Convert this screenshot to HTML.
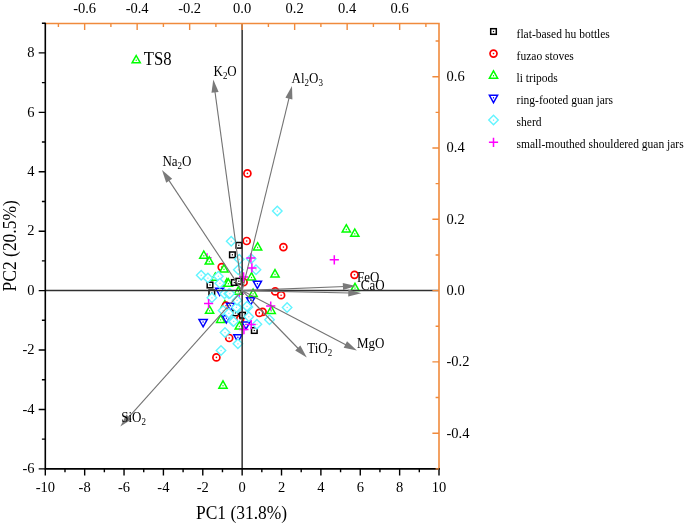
<!DOCTYPE html><html><head><meta charset="utf-8"><style>
html,body{margin:0;padding:0;background:#fff;}
svg{display:block;font-family:"Liberation Serif",serif;will-change:transform;}
.ms{fill:#fff;stroke:#000;stroke-width:1.5}
.mc{fill:#fff;stroke:#f00;stroke-width:1.7}
.mt{fill:#fff;stroke:#0f0;stroke-width:1.5;stroke-linejoin:miter}
.mv{fill:#fff;stroke:#00f;stroke-width:1.5;stroke-linejoin:miter}
.md{fill:#fff;stroke:#62F4FF;stroke-width:1.4}
.mp{fill:none;stroke:#f0f;stroke-width:1.5}
.tk{font-size:14.5px;fill:#000}
.ar{stroke:#737373;stroke-width:1.1;fill:none}
.ah{fill:#7a7a7a;stroke:none}
.lb{font-size:13px;fill:#000}
.lg{font-size:11.5px;fill:#000}
</style></head><body>
<svg width="685" height="525" viewBox="0 0 685 525">
<path d="M202.40 257.80H211.60M207.00 253.20V262.40" class="mp"/>
<path d="M234.70 294.00H243.90M239.30 289.40V298.60" class="mp"/>
<path d="M224.90 300.50L229.00 307.80L220.80 307.80Z" class="mt"/><rect x="224.35" y="304.60" width="1.1" height="1.4" fill="#0f0"/>
<rect x="236.00" y="242.50" width="5.60" height="5.60" class="ms"/><rect x="238.20" y="244.70" width="1.2" height="1.2" fill="#000"/>
<rect x="229.60" y="252.00" width="5.60" height="5.60" class="ms"/><rect x="231.80" y="254.20" width="1.2" height="1.2" fill="#000"/>
<rect x="207.20" y="282.20" width="5.60" height="5.60" class="ms"/><rect x="209.40" y="284.40" width="1.2" height="1.2" fill="#000"/>
<rect x="209.00" y="290.10" width="5.60" height="5.60" class="ms"/><rect x="211.20" y="292.30" width="1.2" height="1.2" fill="#000"/>
<rect x="232.70" y="310.10" width="5.60" height="5.60" class="ms"/><rect x="234.90" y="312.30" width="1.2" height="1.2" fill="#000"/>
<circle cx="247.40" cy="173.40" r="3.5" class="mc"/><circle cx="247.40" cy="173.40" r="0.8" fill="#f00"/>
<circle cx="246.70" cy="241.00" r="3.5" class="mc"/><circle cx="246.70" cy="241.00" r="0.8" fill="#f00"/>
<circle cx="283.40" cy="247.10" r="3.5" class="mc"/><circle cx="283.40" cy="247.10" r="0.8" fill="#f00"/>
<circle cx="221.70" cy="267.10" r="3.5" class="mc"/><circle cx="221.70" cy="267.10" r="0.8" fill="#f00"/>
<circle cx="354.50" cy="274.80" r="3.5" class="mc"/><circle cx="354.50" cy="274.80" r="0.8" fill="#f00"/>
<circle cx="275.20" cy="291.40" r="3.5" class="mc"/><circle cx="275.20" cy="291.40" r="0.8" fill="#f00"/>
<circle cx="281.10" cy="295.20" r="3.5" class="mc"/><circle cx="281.10" cy="295.20" r="0.8" fill="#f00"/>
<circle cx="262.60" cy="311.90" r="3.5" class="mc"/><circle cx="262.60" cy="311.90" r="0.8" fill="#f00"/>
<circle cx="259.30" cy="312.90" r="3.5" class="mc"/><circle cx="259.30" cy="312.90" r="0.8" fill="#f00"/>
<circle cx="229.20" cy="338.00" r="3.5" class="mc"/><circle cx="229.20" cy="338.00" r="0.8" fill="#f00"/>
<circle cx="216.40" cy="357.40" r="3.5" class="mc"/><circle cx="216.40" cy="357.40" r="0.8" fill="#f00"/>
<circle cx="243.60" cy="282.20" r="3.5" class="mc"/><circle cx="243.60" cy="282.20" r="0.8" fill="#f00"/>
<circle cx="226.00" cy="305.70" r="3.5" class="mc"/><circle cx="226.00" cy="305.70" r="0.8" fill="#f00"/>
<circle cx="240.20" cy="319.00" r="3.5" class="mc"/><circle cx="240.20" cy="319.00" r="0.8" fill="#f00"/>
<rect x="239.70" y="312.40" width="5.60" height="5.60" class="ms"/><rect x="241.90" y="314.60" width="1.2" height="1.2" fill="#000"/>
<rect x="251.50" y="327.70" width="5.60" height="5.60" class="ms"/><rect x="253.70" y="329.90" width="1.2" height="1.2" fill="#000"/>
<path d="M136.20 55.50L140.30 62.80L132.10 62.80Z" class="mt"/><rect x="135.65" y="59.60" width="1.1" height="1.4" fill="#0f0"/>
<path d="M257.60 242.70L261.70 250.00L253.50 250.00Z" class="mt"/><rect x="257.05" y="246.80" width="1.1" height="1.4" fill="#0f0"/>
<path d="M203.80 251.00L207.90 258.30L199.70 258.30Z" class="mt"/><rect x="203.25" y="255.10" width="1.1" height="1.4" fill="#0f0"/>
<path d="M209.30 256.80L213.40 264.10L205.20 264.10Z" class="mt"/><rect x="208.75" y="260.90" width="1.1" height="1.4" fill="#0f0"/>
<path d="M224.00 264.60L228.10 271.90L219.90 271.90Z" class="mt"/><rect x="223.45" y="268.70" width="1.1" height="1.4" fill="#0f0"/>
<path d="M215.30 273.00L219.40 280.30L211.20 280.30Z" class="mt"/><rect x="214.75" y="277.10" width="1.1" height="1.4" fill="#0f0"/>
<path d="M226.90 278.60L231.00 285.90L222.80 285.90Z" class="mt"/><rect x="226.35" y="282.70" width="1.1" height="1.4" fill="#0f0"/>
<path d="M228.40 278.90L232.50 286.20L224.30 286.20Z" class="mt"/><rect x="227.85" y="283.00" width="1.1" height="1.4" fill="#0f0"/>
<rect x="231.50" y="279.70" width="5.60" height="5.60" class="ms"/><rect x="233.70" y="281.90" width="1.2" height="1.2" fill="#000"/>
<rect x="236.00" y="278.40" width="5.60" height="5.60" class="ms"/><rect x="238.20" y="280.60" width="1.2" height="1.2" fill="#000"/>
<path d="M251.50 272.70L255.60 280.00L247.40 280.00Z" class="mt"/><rect x="250.95" y="276.80" width="1.1" height="1.4" fill="#0f0"/>
<path d="M275.00 269.60L279.10 276.90L270.90 276.90Z" class="mt"/><rect x="274.45" y="273.70" width="1.1" height="1.4" fill="#0f0"/>
<path d="M346.30 224.70L350.40 232.00L342.20 232.00Z" class="mt"/><rect x="345.75" y="228.80" width="1.1" height="1.4" fill="#0f0"/>
<path d="M354.80 229.00L358.90 236.30L350.70 236.30Z" class="mt"/><rect x="354.25" y="233.10" width="1.1" height="1.4" fill="#0f0"/>
<path d="M355.00 283.30L359.10 290.60L350.90 290.60Z" class="mt"/><rect x="354.45" y="287.40" width="1.1" height="1.4" fill="#0f0"/>
<path d="M238.30 286.90L242.40 294.20L234.20 294.20Z" class="mt"/><rect x="237.75" y="291.00" width="1.1" height="1.4" fill="#0f0"/>
<path d="M253.10 289.10L257.20 296.40L249.00 296.40Z" class="mt"/><rect x="252.55" y="293.20" width="1.1" height="1.4" fill="#0f0"/>
<path d="M209.60 306.00L213.70 313.30L205.50 313.30Z" class="mt"/><rect x="209.05" y="310.10" width="1.1" height="1.4" fill="#0f0"/>
<path d="M271.20 306.10L275.30 313.40L267.10 313.40Z" class="mt"/><rect x="270.65" y="310.20" width="1.1" height="1.4" fill="#0f0"/>
<path d="M220.70 315.10L224.80 322.40L216.60 322.40Z" class="mt"/><rect x="220.15" y="319.20" width="1.1" height="1.4" fill="#0f0"/>
<path d="M223.00 380.90L227.10 388.20L218.90 388.20Z" class="mt"/><rect x="222.45" y="385.00" width="1.1" height="1.4" fill="#0f0"/>
<path d="M219.70 295.50L223.80 288.20L215.60 288.20Z" class="mv"/><rect x="219.15" y="290.00" width="1.1" height="1.4" fill="#00f"/>
<path d="M257.40 288.50L261.50 281.20L253.30 281.20Z" class="mv"/><rect x="256.85" y="283.00" width="1.1" height="1.4" fill="#00f"/>
<path d="M250.70 305.00L254.80 297.70L246.60 297.70Z" class="mv"/><rect x="250.15" y="299.50" width="1.1" height="1.4" fill="#00f"/>
<path d="M230.50 310.50L234.60 303.20L226.40 303.20Z" class="mv"/><rect x="229.95" y="305.00" width="1.1" height="1.4" fill="#00f"/>
<path d="M226.40 323.00L230.50 315.70L222.30 315.70Z" class="mv"/><rect x="225.85" y="317.50" width="1.1" height="1.4" fill="#00f"/>
<path d="M203.10 326.80L207.20 319.50L199.00 319.50Z" class="mv"/><rect x="202.55" y="321.30" width="1.1" height="1.4" fill="#00f"/>
<path d="M237.90 342.10L242.00 334.80L233.80 334.80Z" class="mv"/><rect x="237.35" y="336.60" width="1.1" height="1.4" fill="#00f"/>
<path d="M246.00 329.20L250.10 321.90L241.90 321.90Z" class="mv"/><rect x="245.45" y="323.70" width="1.1" height="1.4" fill="#00f"/>
<path d="M239.30 321.70L243.40 329.00L235.20 329.00Z" class="mt"/><rect x="238.75" y="325.80" width="1.1" height="1.4" fill="#0f0"/>
<path d="M277.30 206.35L282.05 211.10L277.30 215.85L272.55 211.10Z" class="md"/><rect x="276.75" y="210.55" width="1.2" height="1.2" fill="#62F4FF"/>
<path d="M231.20 236.45L235.95 241.20L231.20 245.95L226.45 241.20Z" class="md"/><rect x="230.65" y="240.65" width="1.2" height="1.2" fill="#62F4FF"/>
<path d="M239.30 254.55L244.05 259.30L239.30 264.05L234.55 259.30Z" class="md"/><rect x="238.75" y="258.75" width="1.2" height="1.2" fill="#62F4FF"/>
<path d="M251.20 254.05L255.95 258.80L251.20 263.55L246.45 258.80Z" class="md"/><rect x="250.65" y="258.25" width="1.2" height="1.2" fill="#62F4FF"/>
<path d="M238.30 265.05L243.05 269.80L238.30 274.55L233.55 269.80Z" class="md"/><rect x="237.75" y="269.25" width="1.2" height="1.2" fill="#62F4FF"/>
<path d="M256.00 265.05L260.75 269.80L256.00 274.55L251.25 269.80Z" class="md"/><rect x="255.45" y="269.25" width="1.2" height="1.2" fill="#62F4FF"/>
<path d="M201.20 270.45L205.95 275.20L201.20 279.95L196.45 275.20Z" class="md"/><rect x="200.65" y="274.65" width="1.2" height="1.2" fill="#62F4FF"/>
<path d="M207.90 273.35L212.65 278.10L207.90 282.85L203.15 278.10Z" class="md"/><rect x="207.35" y="277.55" width="1.2" height="1.2" fill="#62F4FF"/>
<path d="M218.30 271.45L223.05 276.20L218.30 280.95L213.55 276.20Z" class="md"/><rect x="217.75" y="275.65" width="1.2" height="1.2" fill="#62F4FF"/>
<path d="M219.80 278.55L224.55 283.30L219.80 288.05L215.05 283.30Z" class="md"/><rect x="219.25" y="282.75" width="1.2" height="1.2" fill="#62F4FF"/>
<path d="M211.90 293.05L216.65 297.80L211.90 302.55L207.15 297.80Z" class="md"/><rect x="211.35" y="297.25" width="1.2" height="1.2" fill="#62F4FF"/>
<path d="M224.50 289.05L229.25 293.80L224.50 298.55L219.75 293.80Z" class="md"/><rect x="223.95" y="293.25" width="1.2" height="1.2" fill="#62F4FF"/>
<path d="M228.80 289.05L233.55 293.80L228.80 298.55L224.05 293.80Z" class="md"/><rect x="228.25" y="293.25" width="1.2" height="1.2" fill="#62F4FF"/>
<path d="M223.10 305.75L227.85 310.50L223.10 315.25L218.35 310.50Z" class="md"/><rect x="222.55" y="309.95" width="1.2" height="1.2" fill="#62F4FF"/>
<path d="M228.80 308.55L233.55 313.30L228.80 318.05L224.05 313.30Z" class="md"/><rect x="228.25" y="312.75" width="1.2" height="1.2" fill="#62F4FF"/>
<path d="M232.60 316.25L237.35 321.00L232.60 325.75L227.85 321.00Z" class="md"/><rect x="232.05" y="320.45" width="1.2" height="1.2" fill="#62F4FF"/>
<path d="M237.90 303.35L242.65 308.10L237.90 312.85L233.15 308.10Z" class="md"/><rect x="237.35" y="307.55" width="1.2" height="1.2" fill="#62F4FF"/>
<path d="M247.90 302.35L252.65 307.10L247.90 311.85L243.15 307.10Z" class="md"/><rect x="247.35" y="306.55" width="1.2" height="1.2" fill="#62F4FF"/>
<path d="M248.80 311.95L253.55 316.70L248.80 321.45L244.05 316.70Z" class="md"/><rect x="248.25" y="316.15" width="1.2" height="1.2" fill="#62F4FF"/>
<path d="M233.60 316.65L238.35 321.40L233.60 326.15L228.85 321.40Z" class="md"/><rect x="233.05" y="320.85" width="1.2" height="1.2" fill="#62F4FF"/>
<path d="M256.90 319.55L261.65 324.30L256.90 329.05L252.15 324.30Z" class="md"/><rect x="256.35" y="323.75" width="1.2" height="1.2" fill="#62F4FF"/>
<path d="M225.00 327.85L229.75 332.60L225.00 337.35L220.25 332.60Z" class="md"/><rect x="224.45" y="332.05" width="1.2" height="1.2" fill="#62F4FF"/>
<path d="M237.90 339.05L242.65 343.80L237.90 348.55L233.15 343.80Z" class="md"/><rect x="237.35" y="343.25" width="1.2" height="1.2" fill="#62F4FF"/>
<path d="M221.00 345.75L225.75 350.50L221.00 355.25L216.25 350.50Z" class="md"/><rect x="220.45" y="349.95" width="1.2" height="1.2" fill="#62F4FF"/>
<path d="M287.10 302.65L291.85 307.40L287.10 312.15L282.35 307.40Z" class="md"/><rect x="286.55" y="306.85" width="1.2" height="1.2" fill="#62F4FF"/>
<path d="M269.50 315.05L274.25 319.80L269.50 324.55L264.75 319.80Z" class="md"/><rect x="268.95" y="319.25" width="1.2" height="1.2" fill="#62F4FF"/>
<path d="M229.80 288.85L234.55 293.60L229.80 298.35L225.05 293.60Z" class="md"/><rect x="229.25" y="293.05" width="1.2" height="1.2" fill="#62F4FF"/>
<path d="M236.40 302.65L241.15 307.40L236.40 312.15L231.65 307.40Z" class="md"/><rect x="235.85" y="306.85" width="1.2" height="1.2" fill="#62F4FF"/>
<path d="M237.00 295.55L241.75 300.30L237.00 305.05L232.25 300.30Z" class="md"/><rect x="236.45" y="299.75" width="1.2" height="1.2" fill="#62F4FF"/>
<path d="M247.00 301.55L251.75 306.30L247.00 311.05L242.25 306.30Z" class="md"/><rect x="246.45" y="305.75" width="1.2" height="1.2" fill="#62F4FF"/>
<path d="M246.30 257.90H255.50M250.90 253.30V262.50" class="mp"/>
<path d="M247.30 267.90H256.50M251.90 263.30V272.50" class="mp"/>
<path d="M239.00 276.90H248.20M243.60 272.30V281.50" class="mp"/>
<path d="M204.00 303.60H213.20M208.60 299.00V308.20" class="mp"/>
<path d="M266.10 306.00H275.30M270.70 301.40V310.60" class="mp"/>
<path d="M329.70 259.80H338.90M334.30 255.20V264.40" class="mp"/>
<path d="M246.60 324.60H255.80M251.20 320.00V329.20" class="mp"/>
<path d="M239.30 329.60H248.50M243.90 325.00V334.20" class="mp"/>
<path d="M45.30 290.60H439.00M242.15 23.50V468.85" stroke="#303030" stroke-width="1.5" fill="none"/>
<path d="M242.15 290.60L214.79 90.40" class="ar"/>
<path d="M213.30 79.50L218.63 91.89L211.49 92.87Z" class="ah"/>
<path d="M242.15 290.60L289.40 96.69" class="ar"/>
<path d="M292.00 86.00L292.42 99.48L285.42 97.78Z" class="ah"/>
<path d="M242.15 290.60L168.09 179.16" class="ar"/>
<path d="M162.00 170.00L172.19 178.83L166.20 182.82Z" class="ah"/>
<path d="M242.15 290.60L127.64 418.31" class="ar"/>
<path d="M120.30 426.50L126.30 414.42L131.66 419.22Z" class="ah"/>
<path d="M242.15 290.60L299.15 349.50" class="ar"/>
<path d="M306.80 357.40L295.17 350.56L300.35 345.55Z" class="ah"/>
<path d="M242.15 290.60L347.15 345.41" class="ar"/>
<path d="M356.90 350.50L343.71 347.68L347.04 341.29Z" class="ah"/>
<path d="M242.15 290.60L344.91 286.44" class="ar"/>
<path d="M355.90 286.00L343.06 290.12L342.77 282.93Z" class="ah"/>
<path d="M242.15 290.60L350.30 293.05" class="ar"/>
<path d="M361.30 293.30L348.22 296.60L348.38 289.41Z" class="ah"/>
<text x="213.5" y="76.2" font-size="14.6" transform="matrix(0.89 0 0 1 23.485 0)"><tspan dy="0">K</tspan><tspan font-size="10.07" dy="3.2">2</tspan><tspan dy="-3.2">O</tspan></text>
<text x="291.6" y="83.0" font-size="14.6" transform="matrix(0.89 0 0 1 32.076 0)"><tspan dy="0">Al</tspan><tspan font-size="10.07" dy="3.2">2</tspan><tspan dy="-3.2">O</tspan><tspan font-size="10.07" dy="3.2">3</tspan></text>
<text x="162.4" y="166.0" font-size="14.6" transform="matrix(0.89 0 0 1 17.864 0)"><tspan dy="0">Na</tspan><tspan font-size="10.07" dy="3.2">2</tspan><tspan dy="-3.2">O</tspan></text>
<text x="121.2" y="422.2" font-size="14.6" transform="matrix(0.89 0 0 1 13.332 0)"><tspan dy="0">SiO</tspan><tspan font-size="10.07" dy="3.2">2</tspan></text>
<text x="307.2" y="352.8" font-size="14.6" transform="matrix(0.89 0 0 1 33.792 0)"><tspan dy="0">TiO</tspan><tspan font-size="10.07" dy="3.2">2</tspan></text>
<text x="357.0" y="347.6" font-size="14.6" transform="matrix(0.89 0 0 1 39.270 0)"><tspan dy="0">MgO</tspan></text>
<text x="357.0" y="282.4" font-size="14.6" transform="matrix(0.89 0 0 1 39.270 0)"><tspan dy="0">FeO</tspan></text>
<text x="360.8" y="290.2" font-size="14.6" transform="matrix(0.89 0 0 1 39.688 0)"><tspan dy="0">CaO</tspan></text>
<text x="143.8" y="64.7" font-size="19.2" transform="matrix(0.87 0 0 1 18.694 0)">TS8</text>
<path d="M45.30 23.50H439.00V468.85" stroke="#F08A3C" stroke-width="1.6" fill="none"/>
<path d="M45.30 22.70V468.85H439.80" stroke="#000" stroke-width="1.6" fill="none"/>
<path d="M45.30 468.85V475.45M64.99 468.85V472.25M84.67 468.85V475.45M104.36 468.85V472.25M124.04 468.85V475.45M143.73 468.85V472.25M163.41 468.85V475.45M183.10 468.85V472.25M202.78 468.85V475.45M222.47 468.85V472.25M242.15 468.85V475.45M261.83 468.85V472.25M281.52 468.85V475.45M301.20 468.85V472.25M320.89 468.85V475.45M340.57 468.85V472.25M360.26 468.85V475.45M379.94 468.85V472.25M399.63 468.85V475.45M419.31 468.85V472.25M439.00 468.85V475.45" stroke="#000" stroke-width="1.4"/>
<text x="45.30" y="492" class="tk" text-anchor="middle">-10</text>
<text x="84.67" y="492" class="tk" text-anchor="middle">-8</text>
<text x="124.04" y="492" class="tk" text-anchor="middle">-6</text>
<text x="163.41" y="492" class="tk" text-anchor="middle">-4</text>
<text x="202.78" y="492" class="tk" text-anchor="middle">-2</text>
<text x="242.15" y="492" class="tk" text-anchor="middle">0</text>
<text x="281.52" y="492" class="tk" text-anchor="middle">2</text>
<text x="320.89" y="492" class="tk" text-anchor="middle">4</text>
<text x="360.26" y="492" class="tk" text-anchor="middle">6</text>
<text x="399.63" y="492" class="tk" text-anchor="middle">8</text>
<text x="439.00" y="492" class="tk" text-anchor="middle">10</text>
<path d="M45.30 468.86H38.70M45.30 439.15H41.90M45.30 409.44H38.70M45.30 379.73H41.90M45.30 350.02H38.70M45.30 320.31H41.90M45.30 290.60H38.70M45.30 260.89H41.90M45.30 231.18H38.70M45.30 201.47H41.90M45.30 171.76H38.70M45.30 142.05H41.90M45.30 112.34H38.70M45.30 82.63H41.90M45.30 52.92H38.70M45.30 23.21H41.90" stroke="#000" stroke-width="1.4"/>
<text x="34.6" y="473.16" class="tk" text-anchor="end">-6</text>
<text x="34.6" y="413.74" class="tk" text-anchor="end">-4</text>
<text x="34.6" y="354.32" class="tk" text-anchor="end">-2</text>
<text x="34.6" y="294.90" class="tk" text-anchor="end">0</text>
<text x="34.6" y="235.48" class="tk" text-anchor="end">2</text>
<text x="34.6" y="176.06" class="tk" text-anchor="end">4</text>
<text x="34.6" y="116.64" class="tk" text-anchor="end">6</text>
<text x="34.6" y="57.22" class="tk" text-anchor="end">8</text>
<path d="M58.40 23.50V26.90M84.65 23.50V30.10M110.90 23.50V26.90M137.15 23.50V30.10M163.40 23.50V26.90M189.65 23.50V30.10M215.90 23.50V26.90M242.15 23.50V30.10M268.40 23.50V26.90M294.65 23.50V30.10M320.90 23.50V26.90M347.15 23.50V30.10M373.40 23.50V26.90M399.65 23.50V30.10M425.90 23.50V26.90" stroke="#F08A3C" stroke-width="1.4"/>
<text x="84.65" y="12.8" class="tk" text-anchor="middle">-0.6</text>
<text x="137.15" y="12.8" class="tk" text-anchor="middle">-0.4</text>
<text x="189.65" y="12.8" class="tk" text-anchor="middle">-0.2</text>
<text x="242.15" y="12.8" class="tk" text-anchor="middle">0.0</text>
<text x="294.65" y="12.8" class="tk" text-anchor="middle">0.2</text>
<text x="347.15" y="12.8" class="tk" text-anchor="middle">0.4</text>
<text x="399.65" y="12.8" class="tk" text-anchor="middle">0.6</text>
<path d="M439.00 468.85H435.60M439.00 433.20H432.40M439.00 397.55H435.60M439.00 361.90H432.40M439.00 326.25H435.60M439.00 290.60H432.40M439.00 254.95H435.60M439.00 219.30H432.40M439.00 183.65H435.60M439.00 148.00H432.40M439.00 112.35H435.60M439.00 76.70H432.40M439.00 41.05H435.60" stroke="#F08A3C" stroke-width="1.4"/>
<text x="446.5" y="437.50" class="tk">-0.4</text>
<text x="446.5" y="366.20" class="tk">-0.2</text>
<text x="446.5" y="294.90" class="tk">0.0</text>
<text x="446.5" y="223.60" class="tk">0.2</text>
<text x="446.5" y="152.30" class="tk">0.4</text>
<text x="446.5" y="81.00" class="tk">0.6</text>
<text x="241.6" y="519.5" font-size="19.2" text-anchor="middle" transform="matrix(0.91 0 0 1 21.744 0)">PC1 (31.8%)</text>
<text transform="translate(15.8 245.8) rotate(-90) scale(0.91 1)" x="0" y="0" font-size="19.2" text-anchor="middle">PC2 (20.5%)</text>
<rect x="490.70" y="28.70" width="5.60" height="5.60" class="ms"/><rect x="492.90" y="30.90" width="1.2" height="1.2" fill="#000"/>
<text x="516.6" y="37.6" class="lg">flat-based hu bottles</text>
<circle cx="493.50" cy="53.60" r="3.5" class="mc"/><circle cx="493.50" cy="53.60" r="0.8" fill="#f00"/>
<text x="516.6" y="59.6" class="lg">fuzao stoves</text>
<path d="M493.50 70.90L497.60 78.20L489.40 78.20Z" class="mt"/><rect x="492.95" y="75.00" width="1.1" height="1.4" fill="#0f0"/>
<text x="516.6" y="81.8" class="lg">li tripods</text>
<path d="M493.50 102.60L497.60 95.30L489.40 95.30Z" class="mv"/><rect x="492.95" y="97.10" width="1.1" height="1.4" fill="#00f"/>
<text x="516.6" y="104.0" class="lg">ring-footed guan jars</text>
<path d="M493.50 115.35L498.25 120.10L493.50 124.85L488.75 120.10Z" class="md"/><rect x="492.95" y="119.55" width="1.2" height="1.2" fill="#62F4FF"/>
<text x="516.6" y="125.8" class="lg">sherd</text>
<path d="M488.90 142.30H498.10M493.50 137.70V146.90" class="mp"/>
<text x="516.6" y="147.8" class="lg">small-mouthed shouldered guan jars</text>
</svg></body></html>
